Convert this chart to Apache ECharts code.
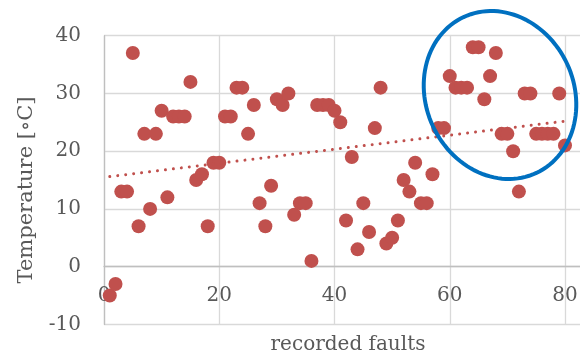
<!DOCTYPE html>
<html><head><meta charset="utf-8">
<script src="https://cdn.jsdelivr.net/npm/echarts@6/dist/echarts.min.js"></script>
<style>html,body{margin:0;padding:0;background:#fff}#c{width:580px;height:356px}</style>
</head><body><div id="c"></div>
<script>
const faults = [1,2,3,4,5,6,7,8,9,10,11,12,13,14,15,16,17,18,19,20,
  21,22,23,24,25,26,27,28,29,30,31,32,33,34,35,36,37,38,39,40,
  41,42,43,44,45,46,47,48,49,50,51,52,53,54,55,56,57,58,59,60,
  61,62,63,64,65,66,67,68,69,70,71,72,73,74,75,76,77,78,79,80];
const temperatures = [-5,-3,13,13,37,7,23,10,23,27,12,26,26,26,32,15,16,7,18,18,
  26,26,31,31,23,28,11,7,14,29,28,30,9,11,11,1,28,28,28,27,
  25,8,19,3,11,6,24,31,4,5,8,15,13,18,11,11,16,24,24,33,
  31,31,31,38,38,29,33,37,23,23,20,13,30,30,23,23,23,23,30,21];
const trendFaults = [1, 80];
const trendTemps = [15.6, 25.2];
const xTicks = [0, 20, 40, 60, 80];
const yTicks = [-10, 0, 10, 20, 30, 40];
const xTitle = 'recorded faults';
const yTitle = 'Temperature [∘C]';

const FONT = 'DejaVu Serif';
const TXT = '#595959';
const RED = '#C0504D';

// annotation ellipse (highlight circle), tilted
function ellipsePoints(cx, cy, a, b, phiDeg, n) {
  const p = phiDeg * Math.PI / 180;
  const u = [Math.sin(p), Math.cos(p)], v = [Math.cos(p), -Math.sin(p)];
  const pts = [];
  for (let i = 0; i < n; i++) {
    const t = 2 * Math.PI * i / n;
    pts.push([cx + a * Math.cos(t) * v[0] + b * Math.sin(t) * u[0],
              cy + a * Math.cos(t) * v[1] + b * Math.sin(t) * u[1]]);
  }
  return pts;
}

const GRID_TOP = 35.7, GRID_H = 288.7;
const yMin = yTicks[0], yMax = yTicks[yTicks.length - 1];
const zeroOffset = -GRID_H * (0 - yMin) / (yMax - yMin);

const chart = echarts.init(document.getElementById('c'), null, {renderer: 'canvas'});
const step = xTicks[1] - xTicks[0];
chart.setOption({
  animation: false,
  backgroundColor: '#fff',
  grid: {left: 104, top: GRID_TOP, width: 576.25, height: GRID_H, containLabel: false, outerBoundsMode: 'none'},
  xAxis: {
    type: 'value', min: xTicks[0], max: xTicks[0] + step * 5, interval: step,
    offset: zeroOffset,
    axisLine: {onZero: false, lineStyle: {color: '#BFBFBF', width: 1.3}},
    axisTick: {show: false},
    axisLabel: {margin: 19, color: TXT, fontFamily: FONT, fontSize: 20,
      formatter: v => xTicks.includes(v) ? String(v) : ''},
    splitLine: {show: true, lineStyle: {color: '#D9D9D9', width: 1.3}}
  },
  yAxis: {
    type: 'value', min: yMin, max: yMax, interval: yTicks[1] - yTicks[0],
    axisLine: {show: true, onZero: false, lineStyle: {color: '#BFBFBF', width: 1.3}},
    axisTick: {show: false},
    axisLabel: {margin: 23, color: TXT, fontFamily: FONT, fontSize: 20},
    splitLine: {show: true, lineStyle: {color: '#D9D9D9', width: 1.3}}
  },
  series: [
    {
      type: 'scatter', symbol: 'circle', symbolSize: 14,
      itemStyle: {color: RED, opacity: 1},
      data: faults.map((f, i) => [f, temperatures[i]])
    },
    {
      type: 'line', showSymbol: false, silent: true,
      lineStyle: {color: RED, width: 3, type: [0.01, 8], cap: 'round'},
      data: trendFaults.map((f, i) => [f, trendTemps[i]])
    }
  ],
  graphic: [
    {type: 'polygon', shape: {points: ellipsePoints(500, 95, 74, 86, 25, 120), smooth: 0},
      style: {fill: null, stroke: '#0070C0', lineWidth: 4}, z: 100},
    {type: 'text', x: 27, y: 190, rotation: Math.PI / 2,
      style: {text: yTitle, fill: TXT, font: '21px "DejaVu Serif"', align: 'center', verticalAlign: 'middle'}},
    {type: 'text', x: 348, y: 345,
      style: {text: xTitle, fill: TXT, font: '20px "DejaVu Serif"', align: 'center', verticalAlign: 'middle'}}
  ]
});
</script>
</body></html>
